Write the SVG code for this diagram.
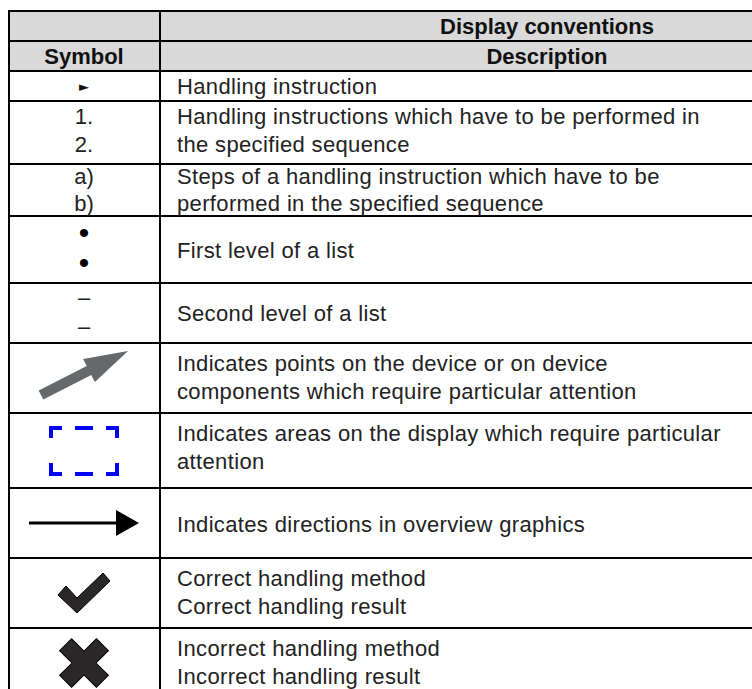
<svg xmlns="http://www.w3.org/2000/svg" width="752" height="689" viewBox="0 0 752 689">
<style>
.t{font-family:"Liberation Sans",Arial,sans-serif;font-size:22px;fill:#222;letter-spacing:0.35px}
.s{font-family:"Liberation Sans",Arial,sans-serif;font-size:22px;fill:#222;text-anchor:middle}
.b{font-family:"Liberation Sans",Arial,sans-serif;font-size:30px;fill:#000;text-anchor:middle}
.h{font-family:"Liberation Sans",Arial,sans-serif;font-size:22px;font-weight:bold;fill:#111;text-anchor:middle}
.ln{stroke:#000;stroke-width:2;fill:none}
.blue{stroke:#0000ff;stroke-width:4;fill:none;stroke-linecap:butt}
</style>
<rect x="9" y="11" width="743" height="60" fill="#d9d9d9"/>
<g id="grid" class="ln">
<line x1="9" y1="11" x2="752" y2="11"/>
<line x1="9" y1="41" x2="752" y2="41"/>
<line x1="9" y1="71" x2="752" y2="71"/>
<line x1="9" y1="101" x2="752" y2="101"/>
<line x1="9" y1="164" x2="752" y2="164"/>
<line x1="9" y1="216" x2="752" y2="216"/>
<line x1="9" y1="283" x2="752" y2="283"/>
<line x1="9" y1="343" x2="752" y2="343"/>
<line x1="9" y1="413" x2="752" y2="413"/>
<line x1="9" y1="488" x2="752" y2="488"/>
<line x1="9" y1="558" x2="752" y2="558"/>
<line x1="9" y1="628" x2="752" y2="628"/>
<line x1="9" y1="10" x2="9" y2="689"/>
<line x1="160" y1="10" x2="160" y2="689"/>
</g>
<g id="header">
<text class="h" x="547" y="34">Display conventions</text>
<text class="h" x="84" y="64">Symbol</text>
<text class="h" x="547" y="64">Description</text>
</g>
<g id="row1">
<text x="84" y="91" text-anchor="middle" font-family="DejaVu Sans,sans-serif" font-size="13" fill="#111">►</text>
<text class="t" x="177" y="94">Handling instruction</text>
</g>
<g id="row2">
<text class="s" x="84" y="124">1.</text>
<text class="s" x="84" y="152">2.</text>
<text class="t" x="177" y="124">Handling instructions which have to be performed in</text>
<text class="t" x="177" y="152">the specified sequence</text>
</g>
<g id="row3">
<text class="s" x="84" y="184">a)</text>
<text class="s" x="84" y="211">b)</text>
<text class="t" x="177" y="184">Steps of a handling instruction which have to be</text>
<text class="t" x="177" y="211">performed in the specified sequence</text>
</g>
<g id="row4">
<text class="b" x="84" y="243">•</text>
<text class="b" x="84" y="273">•</text>
<text class="t" x="177" y="258">First level of a list</text>
</g>
<g id="row5">
<text class="s" x="84" y="305">–</text>
<text class="s" x="84" y="334">–</text>
<text class="t" x="177" y="321">Second level of a list</text>
</g>
<g id="row6">
<polygon points="38.7,390.5 86.7,366 83.1,358.9 128,351 94.9,382.1 91.3,375 43.3,399.5" fill="#65696c"/>
<text class="t" x="177" y="371">Indicates points on the device or on device</text>
<text class="t" x="177" y="399">components which require particular attention</text>
</g>
<g id="row7">
<polyline class="blue" points="51,438 51,428 62,428"/>
<line class="blue" x1="75" y1="428" x2="93" y2="428"/>
<polyline class="blue" points="106,428 117,428 117,438"/>
<polyline class="blue" points="51,463 51,474 62,474"/>
<line class="blue" x1="75" y1="474" x2="93" y2="474"/>
<polyline class="blue" points="106,474 117,474 117,463"/>
<text class="t" x="177" y="441">Indicates areas on the display which require particular</text>
<text class="t" x="177" y="469">attention</text>
</g>
<g id="row8">
<line x1="29" y1="523" x2="118" y2="523" stroke="#000" stroke-width="3"/>
<polygon points="116,510 139,523 116,536" fill="#000"/>
<text class="t" x="177" y="532">Indicates directions in overview graphics</text>
</g>
<g id="row9">
<polygon points="58,595 66,586 77,598 103,573 110,581 77,613" fill="#2a2828" stroke="#000" stroke-width="1"/>
<text class="t" x="177" y="586">Correct handling method</text>
<text class="t" x="177" y="614">Correct handling result</text>
</g>
<g id="row10">
<polygon transform="translate(84,663) rotate(45)" points="-8.5,-26 8.5,-26 8.5,-8.5 26,-8.5 26,8.5 8.5,8.5 8.5,26 -8.5,26 -8.5,8.5 -26,8.5 -26,-8.5 -8.5,-8.5" fill="#2a2828" stroke="#000" stroke-width="1"/>
<text class="t" x="177" y="656">Incorrect handling method</text>
<text class="t" x="177" y="684">Incorrect handling result</text>
</g>
</svg>
